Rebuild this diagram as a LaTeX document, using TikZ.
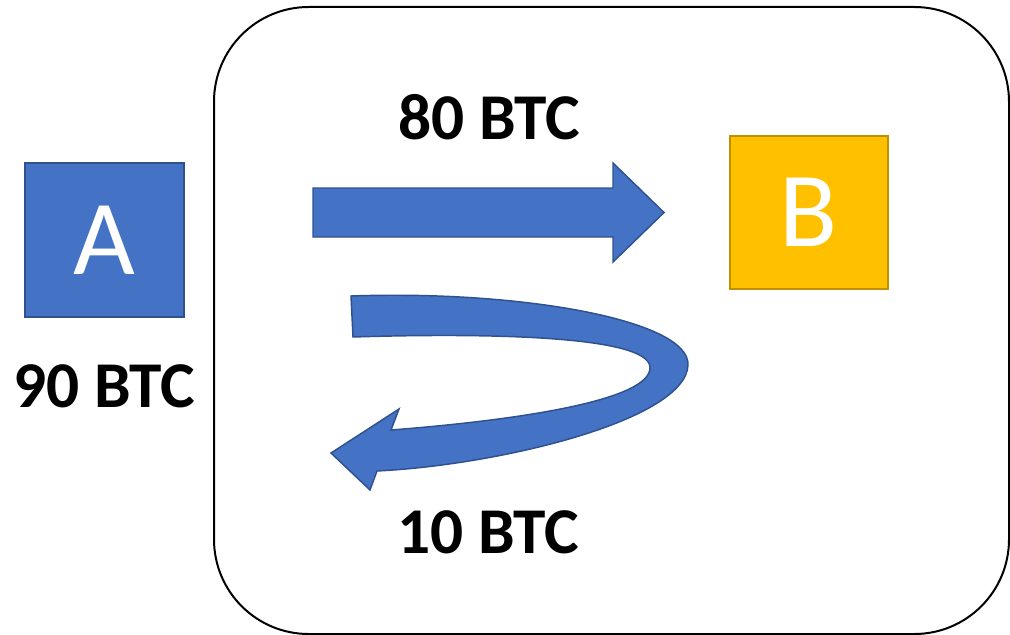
\documentclass[tikz,border=0pt]{standalone}
\usepackage{fontspec}
\setmainfont{Carlito}
\definecolor{acctblue}{HTML}{4472C4}
\definecolor{acctblueline}{HTML}{2F528F}
\definecolor{acctgold}{HTML}{FFC000}
\definecolor{acctgoldline}{HTML}{BF9000}
\begin{document}
\begin{tikzpicture}[x=0.75pt, y=-0.75pt,
    acct/.style={line width=1.2pt, text=white, font=\fontsize{80}{80}\selectfont,
      inner sep=0pt},
    amount/.style={font=\fontsize{49}{49}\selectfont\bfseries},
    blockarrow/.style={fill=acctblue, draw=acctblueline, line width=1.1pt, line join=miter}]
    \useasboundingbox (0, 0) rectangle (1010, 635) ;
    % the channel
    \draw[line width=1.5pt, rounded corners=71pt] (214, 7) rectangle (1009, 634) ;
    % the two parties
    \node[acct, fill=acctblue, draw=acctblueline, minimum width=119pt, minimum height=115.5pt] (A) at (104.5, 240) {A} ;
    \node[acct, fill=acctgold, draw=acctgoldline, minimum width=118.5pt, minimum height=114.75pt] (B) at (809, 212.5) {B} ;
    \node[amount] (balA) at (104, 386) {90 BTC} ;
    \node[amount] (pay) at (489, 117) {80 BTC} ;
    \node[amount] (change) at (488, 532) {10 BTC} ;
    % payment arrow
    \draw[blockarrow] (313, 188) -- (613, 188) -- (613, 163) -- (664, 212.5)
      -- (613, 262) -- (613, 237) -- (313, 237) -- cycle ;
    % change coming back
    \draw[blockarrow] (351, 296) .. controls (520, 290) and (690, 320) .. (688, 365)
      .. controls (686, 420) and (500, 465) .. (377, 471)
      -- (370, 490) -- (331, 453) -- (399, 409) -- (391, 430)
      .. controls (520, 420) and (652, 400) .. (650, 367)
      .. controls (648, 335) and (480, 333) .. (353, 337) -- cycle ;
  \end{tikzpicture}
\end{document}
